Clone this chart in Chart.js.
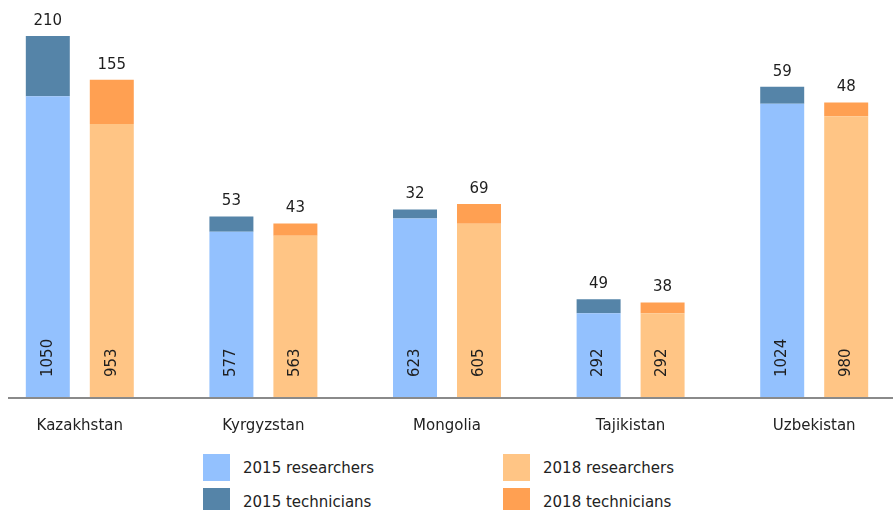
<!DOCTYPE html>
<html>
<head>
<meta charset="utf-8">
<script src="https://cdn.jsdelivr.net/npm/chart.js@4/dist/chart.umd.min.js"></script>
<style>
  body { margin: 0; background: #fff; width: 893px; height: 510px; overflow: hidden; position: relative; font-family: 'DejaVu Sans', sans-serif; }
  #wrap { position: absolute; left: -12px; top: 0; width: 918px; height: 440px; }
  #legend { position: absolute; left: 203px; top: 454px; display: grid; grid-template-columns: 300px 300px; row-gap: 7px; }
  .item { display: flex; align-items: center; height: 27px; font-size: 15px; color: #222; }
  .box { width: 27px; height: 27px; margin-right: 13px; }
</style>
</head>
<body>
<div id="wrap"><canvas id="chart" width="918" height="440"></canvas></div>
<div id="legend"></div>
<script>
const categories = ['Kazakhstan', 'Kyrgyzstan', 'Mongolia', 'Tajikistan', 'Uzbekistan'];
const researchers2015 = [1050, 577, 623, 292, 1024];
const technicians2015 = [210, 53, 32, 49, 59];
const researchers2018 = [953, 563, 605, 292, 980];
const technicians2018 = [155, 43, 69, 38, 48];

const totals = categories.map((c, i) => Math.max(
  researchers2015[i] + technicians2015[i],
  researchers2018[i] + technicians2018[i]
));

const datasets = [
  { label: '2015 researchers', data: researchers2015, backgroundColor: '#93c1fe', stack: 's2015', kind: 'res' },
  { label: '2015 technicians', data: technicians2015, backgroundColor: '#5584a8', stack: 's2015', kind: 'tech' },
  { label: '2018 researchers', data: researchers2018, backgroundColor: '#ffc585', stack: 's2018', kind: 'res' },
  { label: '2018 technicians', data: technicians2018, backgroundColor: '#ffa052', stack: 's2018', kind: 'tech' },
];
datasets.forEach(d => {
  d.categoryPercentage = 0.697;
  d.barPercentage = 0.6875;
  d.borderWidth = 0;
});

const valueLabels = {
  id: 'valueLabels',
  afterDatasetsDraw(chart) {
    const ctx = chart.ctx;
    ctx.save();
    ctx.fillStyle = '#1e1e1e';
    ctx.font = '15px "DejaVu Sans"';
    chart.data.datasets.forEach((ds, di) => {
      const meta = chart.getDatasetMeta(di);
      meta.data.forEach((bar, i) => {
        const v = ds.data[i];
        if (ds.kind === 'tech') {
          ctx.textAlign = 'center';
          ctx.textBaseline = 'middle';
          ctx.fillText(v, bar.x, bar.y - 15);
        } else {
          ctx.save();
          ctx.translate(bar.x, bar.base - 20);
          ctx.rotate(-Math.PI / 2);
          ctx.textAlign = 'left';
          ctx.textBaseline = 'middle';
          ctx.fillText(v, 0, 0);
          ctx.restore();
        }
      });
    });
    ctx.restore();
  }
};

const baseLine = {
  id: 'baseLine',
  afterDatasetsDraw(chart) {
    const ctx = chart.ctx;
    const y = chart.chartArea.bottom + 1;
    ctx.save();
    ctx.strokeStyle = '#8a8a8a';
    ctx.lineWidth = 2;
    ctx.beginPath();
    ctx.moveTo(20, y);
    ctx.lineTo(chart.width, y);
    ctx.stroke();
    ctx.restore();
  }
};

const chart = new Chart(document.getElementById('chart'), {
  type: 'bar',
  data: { labels: categories, datasets: datasets },
  options: {
    responsive: false,
    animation: false,
    layout: { padding: 0 },
    plugins: { legend: { display: false }, tooltip: { enabled: false } },
    scales: {
      x: {
        stacked: true,
        grid: { display: false },
        border: { display: false },
        ticks: { color: '#222', font: { family: 'DejaVu Sans', size: 15 }, padding: 12, maxRotation: 0 },
        afterFit(scale) { scale.height = 43; }
      },
      y: {
        stacked: true,
        display: false,
        min: 0,
        max: Math.max(...totals) * 1.1
      }
    }
  },
  plugins: [valueLabels, baseLine]
});

const legend = document.getElementById('legend');
[0, 2, 1, 3].forEach(i => {
  const d = datasets[i];
  const item = document.createElement('div');
  item.className = 'item';
  item.innerHTML = '<span class="box" style="background:' + d.backgroundColor + '"></span><span>' + d.label + '</span>';
  legend.appendChild(item);
});
</script>
</body>
</html>
